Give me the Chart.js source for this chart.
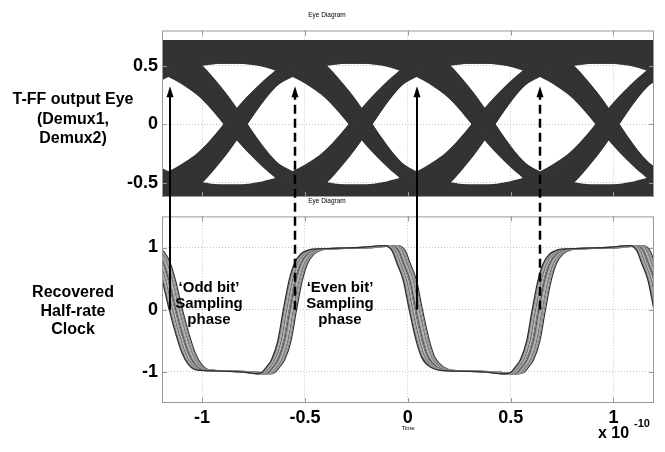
<!DOCTYPE html>
<html>
<head>
<meta charset="utf-8">
<script src="https://cdn.jsdelivr.net/npm/chart.js@4.4.0/dist/chart.umd.min.js"></script>
<style>
  body { margin: 0; background: #fff; }
  #wrap { position: relative; width: 665px; height: 452px; }
  canvas { position: absolute; left: 0; top: 0; }
</style>
</head>
<body>
<div id="wrap">
  <canvas id="eyeTop" width="665" height="452"></canvas>
  <canvas id="eyeBottom" width="665" height="452"></canvas>
</div>
<script>
// time axis in units of 1e-10 s
const xMin = -1.195, xMax = 1.197;
const xTicks = [-1, -0.5, 0, 0.5, 1];
const topYTicks = [-0.5, 0, 0.5];
const bottomYTicks = [-1, 0, 1];

// T-FF output eye: zero crossings of the data eye
const eyeCross = [-1.436, -0.836, -0.228, 0.369, 0.972, 1.572];
// one bit slot, crossing to crossing, sampled every 0.05
const slotTime = [0, 0.05, 0.1, 0.15, 0.2, 0.25, 0.3, 0.35, 0.4, 0.45, 0.5, 0.55, 0.6];
const slotFlat = [0.62, 0.62, 0.62, 0.62, 0.62, 0.62, 0.62, 0.62, 0.62, 0.62, 0.62, 0.62, 0.62];
const slotRise = [0, 0.12, 0.23, 0.32, 0.39, 0.45, 0.5, 0.54, 0.57, 0.595, 0.61, 0.62, 0.62];
const slotHump = [0, 0.12, 0.23, 0.33, 0.42, 0.49, 0.54, 0.49, 0.42, 0.33, 0.23, 0.12, 0];
// bit patterns of the overlaid traces
const eyeBits = [
    [0, 0, 0, 1, 0, 1, 1],
    [0, 0, 1, 0, 1, 1, 1],
    [0, 1, 0, 1, 1, 1, 0],
    [1, 0, 1, 1, 1, 0, 0],
    [0, 1, 1, 1, 0, 0, 0],
    [1, 1, 1, 0, 0, 0, 1],
    [1, 1, 0, 0, 0, 1, 0],
    [1, 0, 0, 0, 1, 0, 1]
];
// trace spread: time jitter and amplitude
const eyeShift = [-0.028, 0, 0.028];
const eyeGain = [0.9, 1.0, 1.09];

// recovered half-rate clock, middle trace
const clockTime = [-1.24, -1.215, -1.186, -1.16, -1.128, -1.095, -1.065, -1.035, -1.006, -0.97, -0.85, -0.75, -0.70,
    -0.675, -0.65, -0.63, -0.60, -0.573, -0.545, -0.52, -0.487, -0.45, -0.42, -0.3, -0.2, -0.08,
    -0.045, -0.02, 0.01, 0.039, 0.073, 0.10, 0.146, 0.19, 0.3, 0.4, 0.5,
    0.535, 0.56, 0.58, 0.61, 0.637, 0.665, 0.69, 0.723, 0.76, 0.79, 0.9, 1.0, 1.11,
    1.145, 1.17, 1.2, 1.229, 1.263];
const clockLevel = [1.0, 0.92, 0.74, 0.45, 0, -0.4, -0.7, -0.88, -0.96, -0.975, -0.99, -1.01, -1.03,
    -1.0, -0.9, -0.8, -0.5, 0, 0.47, 0.74, 0.9, 0.96, 0.975, 0.99, 1.0, 1.03,
    0.95, 0.74, 0.47, 0, -0.5, -0.77, -0.93, -0.975, -0.99, -1.0, -1.03,
    -1.0, -0.9, -0.8, -0.5, 0, 0.47, 0.74, 0.9, 0.96, 0.975, 0.99, 1.0, 1.03,
    0.95, 0.74, 0.47, 0, -0.5];
const clockJitter = [-0.032, -0.027, -0.021, -0.016, -0.011, -0.005, 0, 0.005, 0.011, 0.016, 0.021, 0.027, 0.032];

// sampling phase arrows
const arrowTimes = [-1.157, -0.549, 0.044, 0.642];
const arrowDashed = [false, true, false, true];
const arrowTip = 0.324;

const clockColors = ['#2e2e2e', '#8c8c8c', '#a8a8a8', '#6a6a6a', '#b8b8b8', '#7a7a7a', '#555',
    '#9a9a9a', '#b0b0b0', '#707070', '#a0a0a0', '#888', '#2e2e2e'];
const fontFam = '"Liberation Sans", Arial, sans-serif';
Chart.defaults.font.family = fontFam;
Chart.defaults.color = '#000';

function eyeTrace(bits, shift, gain) {
    var pts = [];
    for (var k = 1; k <= 5; k++) {
        var sign = bits[k] ? 1 : -1;
        var inEdge = bits[k - 1] !== bits[k];
        var outEdge = bits[k + 1] !== bits[k];
        var slot = slotFlat;
        if (inEdge && outEdge) slot = slotHump;
        else if (inEdge) slot = slotRise;
        else if (outEdge) slot = slotRise.slice().reverse();
        var t0 = eyeCross[k - 1], w = eyeCross[k] - eyeCross[k - 1];
        for (var j = (k === 1 ? 0 : 1); j < slot.length; j++) {
            pts.push({ x: t0 + slotTime[j] * w / 0.6 + shift, y: sign * slot[j] * gain });
        }
    }
    return pts;
}

var eyeSets = [];
for (var v = 0; v < eyeShift.length; v++) {
    for (var b of eyeBits) {
        eyeSets.push({
            data: eyeTrace(b, eyeShift[v], eyeGain[v]),
            borderColor: '#333',
            borderWidth: 10,
            borderJoinStyle: 'round',
            cubicInterpolationMode: 'monotone',
            pointRadius: 0,
            clip: 0
        });
    }
}

var clockSets = clockJitter.map(function(dt, i) {
    return {
        data: clockTime.map(function(t, n) { return { x: t + dt, y: clockLevel[n] }; }),
        borderColor: clockColors[i],
        borderWidth: 1.3,
        cubicInterpolationMode: 'monotone',
        pointRadius: 0,
        clip: 0
    };
});

// box round the axes with small inward ticks, like the original plot
const framePlugin = {
    id: 'frame',
    afterDatasetsDraw: function(chart) {
        var ctx = chart.ctx, a = chart.chartArea;
        ctx.save();
        ctx.strokeStyle = '#999';
        ctx.lineWidth = 1;
        ctx.strokeRect(a.left + 0.5, a.top + 0.5, a.right - a.left - 1, a.bottom - a.top - 1);
        ctx.beginPath();
        chart.scales.x.ticks.forEach(function(t) {
            var px = Math.round(chart.scales.x.getPixelForValue(t.value)) + 0.5;
            ctx.moveTo(px, a.top); ctx.lineTo(px, a.top + 5);
            ctx.moveTo(px, a.bottom); ctx.lineTo(px, a.bottom - 5);
        });
        chart.scales.y.ticks.forEach(function(t) {
            var py = Math.round(chart.scales.y.getPixelForValue(t.value)) + 0.5;
            ctx.moveTo(a.left, py); ctx.lineTo(a.left + 5, py);
            ctx.moveTo(a.right, py); ctx.lineTo(a.right - 5, py);
        });
        ctx.stroke();
        ctx.restore();
    }
};

function tickText(v) { return String(v); }

function axes(yMin, yMax, yTicks, xHeight, showX) {
    return {
        x: {
            type: 'linear', min: xMin, max: xMax,
            afterBuildTicks: function(s) { s.ticks = xTicks.map(function(v) { return { value: v }; }); },
            afterFit: function(s) { s.height = xHeight; },
            grid: { color: '#c4c4c4', lineWidth: 1, drawTicks: false },
            border: { display: false, dash: [1, 2] },
            ticks: { display: showX, padding: 4, font: { size: 18, weight: 'bold' }, callback: tickText },
            title: { display: showX, text: 'Time', font: { size: 6 }, padding: { top: 0, bottom: 20 } }
        },
        y: {
            type: 'linear', min: yMin, max: yMax,
            afterBuildTicks: function(s) { s.ticks = yTicks.map(function(v) { return { value: v }; }); },
            afterFit: function(s) { s.width = 162; },
            grid: { color: '#c4c4c4', lineWidth: 1, drawTicks: false },
            border: { display: false, dash: [1, 2] },
            ticks: { padding: 4, font: { size: 18, weight: 'bold' }, callback: tickText }
        }
    };
}

var topChart = new Chart(document.getElementById('eyeTop'), {
    type: 'line',
    data: { datasets: eyeSets },
    options: {
        animation: false, responsive: false, devicePixelRatio: 1, events: [],
        layout: { padding: { left: 0, right: 11, top: 0, bottom: 0 } },
        plugins: {
            legend: { display: false }, tooltip: { enabled: false },
            title: { display: true, text: 'Eye Diagram', font: { size: 6.5, weight: 'normal' }, padding: { top: 11, bottom: 11.7 } }
        },
        scales: axes(-0.623, 0.8, topYTicks, 255, false)
    },
    plugins: [framePlugin]
});

const notesPlugin = {
    id: 'notes',
    afterDraw: function(chart) {
        var ctx = chart.ctx, xs = chart.scales.x;
        var y0 = chart.scales.y.getPixelForValue(0);
        var yTip = topChart.scales.y.getPixelForValue(arrowTip);
        ctx.save();
        ctx.strokeStyle = '#000';
        ctx.fillStyle = '#000';
        arrowTimes.forEach(function(t, i) {
            var px = Math.round(xs.getPixelForValue(t));
            ctx.lineWidth = arrowDashed[i] ? 2.5 : 2;
            ctx.setLineDash(arrowDashed[i] ? [9, 5] : []);
            ctx.beginPath();
            ctx.moveTo(px, y0);
            ctx.lineTo(px, yTip + 9);
            ctx.stroke();
            ctx.setLineDash([]);
            ctx.beginPath();
            ctx.moveTo(px, yTip);
            ctx.lineTo(px - 3.5, yTip + 11);
            ctx.lineTo(px + 3.5, yTip + 11);
            ctx.closePath();
            ctx.fill();
        });

        ctx.textAlign = 'center';
        ctx.textBaseline = 'alphabetic';
        ctx.font = 'bold 15px ' + fontFam;
        ['\u2018Odd bit\u2019', 'Sampling', 'phase'].forEach(function(s, i) {
            ctx.fillText(s, 209, 292 + i * 16);
        });
        ['\u2018Even bit\u2019', 'Sampling', 'phase'].forEach(function(s, i) {
            ctx.fillText(s, 340, 292 + i * 16);
        });

        ctx.font = 'bold 16px ' + fontFam;
        ['T-FF output Eye', '(Demux1,', 'Demux2)'].forEach(function(s, i) {
            ctx.fillText(s, 73, 104 + i * 19.5);
        });
        ['Recovered', 'Half-rate', 'Clock'].forEach(function(s, i) {
            ctx.fillText(s, 73, 297 + i * 18.7);
        });

        ctx.textAlign = 'left';
        ctx.fillText('x 10', 598, 438);
        ctx.font = 'bold 11px ' + fontFam;
        ctx.fillText('-10', 634, 427);
        ctx.restore();
    }
};

var bottomChart = new Chart(document.getElementById('eyeBottom'), {
    type: 'line',
    data: { datasets: clockSets },
    options: {
        animation: false, responsive: false, devicePixelRatio: 1, events: [],
        layout: { padding: { left: 0, right: 11, top: 190, bottom: 0 } },
        plugins: {
            legend: { display: false }, tooltip: { enabled: false },
            title: { display: true, text: 'Eye Diagram', font: { size: 6.5, weight: 'normal' }, padding: { top: 7, bottom: 11.6 } }
        },
        scales: axes(-1.5, 1.5, bottomYTicks, 49, true)
    },
    plugins: [framePlugin, notesPlugin]
});
</script>
</body>
</html>
